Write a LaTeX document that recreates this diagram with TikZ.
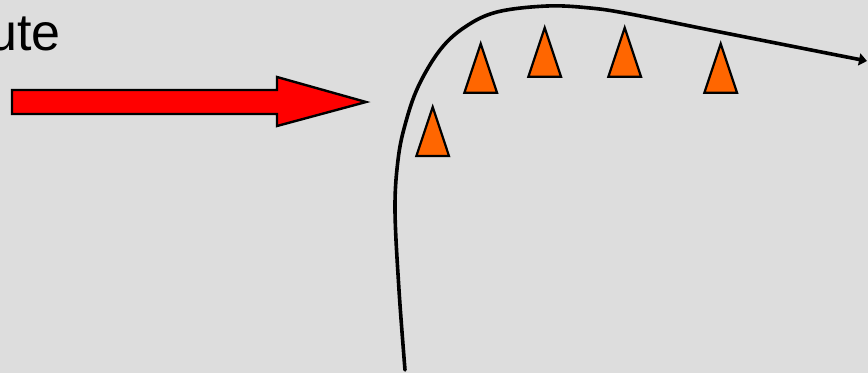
\documentclass[tikz,border=0pt]{standalone}
\usepackage{fontspec}
\setmainfont{Liberation Sans}
\usetikzlibrary{arrows.meta}
\definecolor{bg}{HTML}{DDDDDD}
\definecolor{cone}{HTML}{FF6600}
\tikzset{
  conetri/.style={fill=cone,draw=black,line width=2.2pt,line join=miter},
  bigarrow/.style={fill=red,draw=black,line width=2.4pt,line join=miter},
  flowline/.style={draw=black,line width=3.6pt,line cap=round,-{Triangle[length=8pt,width=12pt]}}
}
\newcommand{\conetriangle}[2]{\draw[conetri] (#1-16.3,#2) -- (#1,#2-49) -- (#1+16.3,#2) -- cycle;}
\begin{document}
\begin{tikzpicture}[x=1pt,y=-1pt]
\fill[bg] (0,0) rectangle (868,373);
\useasboundingbox (0,0) rectangle (868,373);
\node[anchor=base east,inner sep=0pt,font=\fontsize{52}{60}\selectfont] (lbl) at (61,50) {ute};
\draw[bigarrow] (12,90) -- (277,90) -- (277,77) -- (366,102) -- (277,126) -- (277,114) -- (12,114) -- cycle;
\draw[flowline] plot[smooth,tension=0.6] coordinates {(405,370) (399,290) (395,210) (398,160) (405,125) (418,87) (440,50) (465,27) (497,12) (547,6) (590,8) (630,14) (720,32) (867,61)};
\conetriangle{432.7}{156}
\conetriangle{480.7}{92.7}
\conetriangle{544.7}{76.7}
\conetriangle{624.7}{76.7}
\conetriangle{720.7}{92.7}
\end{tikzpicture}
\end{document}
